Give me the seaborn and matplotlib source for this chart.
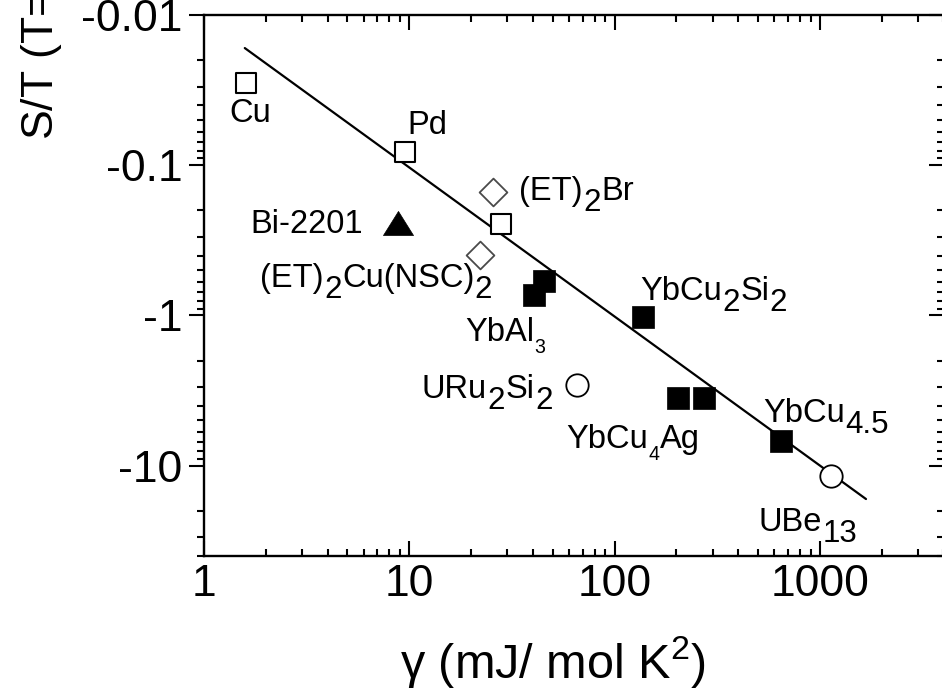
import matplotlib
matplotlib.use("Agg")
import matplotlib.pyplot as plt
import matplotlib.transforms as mtransforms
from matplotlib.path import Path
from matplotlib.ticker import FixedLocator, FixedFormatter, LogLocator, NullFormatter
import numpy as np
import pandas as pd
import seaborn as sns

# ---------------- data ----------------
open_square_gamma = [1.60, 9.53, 27.97]          # Cu, Pd, unlabelled
open_square_st = [-0.0283, -0.0813, -0.248]
diamond_gamma = [25.6, 22.1]                      # (ET)2Br, (ET)2Cu(NSC)2
diamond_st = [-0.150, -0.394]
triangle_gamma = [8.81]                           # Bi-2201
triangle_st = [-0.241]
filled_square_gamma = [45.3, 40.5, 137.0, 204.0, 272.0, 646.0]   # YbAl3 x2, YbCu2Si2, YbCu4Ag x2, YbCu4.5
filled_square_st = [-0.594, -0.736, -1.02, -3.56, -3.56, -6.87]
circle_gamma = [65.6, 1133.0]                     # URu2Si2, UBe13
circle_st = [-2.92, -11.7]
fit_gamma = [1.58, 1677.0]
fit_st = [-0.0166, -16.7]

x_tick_values = [1, 10, 100, 1000]
x_tick_labels = ["1", "10", "100", "1000"]
y_tick_values = [-0.01, -0.1, -1, -10]
y_tick_labels = ["-0.01", "-0.1", "-1", "-10"]

x_label = "γ (mJ/ mol K$^2$)"
y_label = "S/T (T=0) (µV/K$^2$)"

# point labels: segments (text, role) role: n normal, s lowered subscript, t small subscript
label_texts = {
    "Cu": [("Cu", "n")],
    "Pd": [("Pd", "n")],
    "ETBr": [("(ET)", "n"), ("2", "s"), ("Br", "n")],
    "Bi": [("Bi-2201", "n")],
    "ETNSC": [("(ET)", "n"), ("2", "s"), ("Cu(NSC)", "n"), ("2", "s")],
    "YbAl3": [("YbAl", "n"), ("3", "t")],
    "YbCu2Si2": [("YbCu", "n"), ("2", "s"), ("Si", "n"), ("2", "s")],
    "URu2Si2": [("URu", "n"), ("2", "s"), ("Si", "n"), ("2", "s")],
    "YbCu4Ag": [("YbCu", "n"), ("4", "t"), ("Ag", "n")],
    "YbCu45": [("YbCu", "n"), ("4.5", "s")],
    "UBe13": [("UBe", "n"), ("13", "s")],
}
# layout: label anchors (left, baseline) in data units (gamma, |S/T|)
label_anchor = {
    "Cu": (1.324, 0.0514),
    "Pd": (9.75, 0.0618),
    "ETBr": (34.2, 0.1694),
    "Bi": (1.675, 0.281),
    "ETNSC": (1.874, 0.652),
    "YbAl3": (18.67, 1.489),
    "YbCu2Si2": (133.0, 0.784),
    "URu2Si2": (11.53, 3.56),
    "YbCu4Ag": (58.0, 7.65),
    "YbCu45": (528.0, 5.14),
    "UBe13": (505.0, 27.2),
}

# ---------------- style ----------------
sns.set_style("ticks")
plt.rcParams["font.family"] = ["Liberation Sans", "DejaVu Sans"]
plt.rcParams["mathtext.fontset"] = "custom"
plt.rcParams["mathtext.rm"] = "Liberation Sans"
plt.rcParams["mathtext.it"] = "Liberation Sans"
plt.rcParams["mathtext.default"] = "regular"
for key in ["text.color", "axes.labelcolor", "xtick.color", "ytick.color", "axes.edgecolor"]:
    plt.rcParams[key] = "black"

W, H = 942, 689
fig = plt.figure(figsize=(W / 100, H / 100), dpi=100)
fig.patch.set_facecolor("white")
ax = fig.add_axes([204 / W, (H - 556) / H, (943.5 - 204) / W, 541 / H])
ax.set_facecolor("white")

ax.set_xscale("log")
ax.set_yscale("log")
ax.set_xlim(1, 4000)
ax.set_ylim(40, 0.01)   # magnitude, inverted so -0.01 is at the top

def frame(g, st, kind):
    return pd.DataFrame({"gamma": g, "mag": -np.asarray(st, float), "kind": kind})

# fit line
sns.lineplot(data=frame(fit_gamma, fit_st, "fit"), x="gamma", y="mag", ax=ax,
             color="black", linewidth=1.6, zorder=2, sort=False, estimator=None)

tri_path = Path([(-1, -0.8), (1, -0.8), (0, 0.8), (-1, -0.8)],
                [Path.MOVETO, Path.LINETO, Path.LINETO, Path.CLOSEPOLY])

sns.scatterplot(data=frame(open_square_gamma, open_square_st, "os"), x="gamma", y="mag", ax=ax,
                marker="s", s=215, color="white", edgecolor="black", linewidth=1.5, zorder=4)
sns.scatterplot(data=frame(diamond_gamma, diamond_st, "d"), x="gamma", y="mag", ax=ax,
                marker="D", s=200, color="white", edgecolor="#4a4a4a", linewidth=1.3, zorder=4)
sns.scatterplot(data=frame(triangle_gamma, triangle_st, "t"), x="gamma", y="mag", ax=ax,
                marker=tri_path, s=470, color="black", edgecolor="black", linewidth=0.5, zorder=4)
sns.scatterplot(data=frame(filled_square_gamma, filled_square_st, "fs"), x="gamma", y="mag", ax=ax,
                marker="s", s=240, color="black", edgecolor="black", linewidth=0.5, zorder=4)
sns.scatterplot(data=frame(circle_gamma, circle_st, "c"), x="gamma", y="mag", ax=ax,
                marker="o", s=260, color="white", edgecolor="black", linewidth=1.3, zorder=4)

ax.set_xlabel("")
ax.set_ylabel("")
if ax.get_legend() is not None:
    ax.get_legend().remove()

# ticks
TICK_FS = 32
ax.xaxis.set_major_locator(FixedLocator(x_tick_values))
ax.xaxis.set_major_formatter(FixedFormatter(x_tick_labels))
ax.xaxis.set_minor_locator(LogLocator(base=10, subs=np.arange(2, 10), numticks=30))
ax.xaxis.set_minor_formatter(NullFormatter())
ax.yaxis.set_major_locator(FixedLocator([-v for v in y_tick_values]))
ax.yaxis.set_major_formatter(FixedFormatter(y_tick_labels))
ax.yaxis.set_minor_locator(LogLocator(base=10, subs=np.arange(2, 10), numticks=30))
ax.yaxis.set_minor_formatter(NullFormatter())

ax.tick_params(axis="x", which="both", direction="in", top=True, bottom=True, width=1.5,
               labelsize=TICK_FS, pad=6, color="black", labelcolor="black")
ax.tick_params(axis="x", which="major", length=10.5)
ax.tick_params(axis="x", which="minor", length=5.2)
ax.tick_params(axis="y", which="both", direction="out", left=True, right=False, width=1.5,
               labelsize=TICK_FS, pad=5, color="black", labelcolor="black")
ax.tick_params(axis="y", which="major", length=10.5)
ax.tick_params(axis="y", which="minor", length=5.2)
for sp in ax.spines.values():
    sp.set_linewidth(1.7)
    sp.set_color("black")
    sp.set_visible(True)

# right-hand inward ticks
ax2 = ax.twinx()
ax2.set_yscale("log")
ax2.set_ylim(ax.get_ylim())
ax2.yaxis.set_major_locator(FixedLocator([-v for v in y_tick_values]))
ax2.yaxis.set_minor_locator(LogLocator(base=10, subs=np.arange(2, 10), numticks=30))
ax2.yaxis.set_major_formatter(NullFormatter())
ax2.yaxis.set_minor_formatter(NullFormatter())
ax2.tick_params(axis="y", which="both", direction="in", right=True, left=False,
                labelright=False, width=1.5, color="black")
ax2.tick_params(axis="y", which="major", length=10.5)
ax2.tick_params(axis="y", which="minor", length=5.2)
for name, sp in ax2.spines.items():
    sp.set_visible(name == "right")
    sp.set_linewidth(1.7)
    sp.set_color("black")

# axis labels
fig.text(553 / W, 1 - 662 / H, x_label, fontsize=35, ha="center", va="center", color="black")
fig.text(40 / W, 1 - 140 / H, y_label, fontsize=32, rotation=90, ha="center", va="bottom",
         color="black")

# point labels with manual sub-scripts
fig.canvas.draw()
renderer = fig.canvas.get_renderer()
ident = mtransforms.IdentityTransform()
LAB_FS = 23.5

def rich_text(key):
    px, py = ax.transData.transform(label_anchor[key])
    for s, role in label_texts[key]:
        if role == "n":
            fs, dy = LAB_FS, 0
        elif role == "s":
            fs, dy = LAB_FS * 0.96, -11
        else:
            fs, dy = LAB_FS * 0.6, -12
        t = ax.text(px, py + dy, s, fontsize=fs, transform=ident, ha="left",
                    va="baseline", clip_on=False, zorder=5, color="black")
        bb = t.get_window_extent(renderer)
        px = bb.x1 + 0.5

for k in label_texts:
    rich_text(k)

fig.savefig("out.png", dpi=100, facecolor="white")
